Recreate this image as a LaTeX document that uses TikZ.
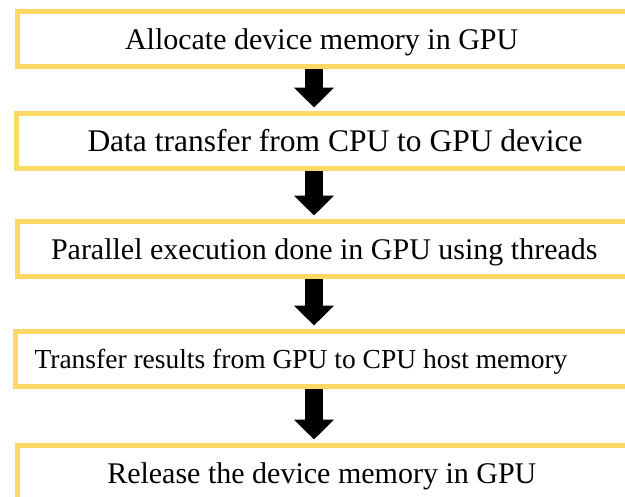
\documentclass[tikz,border=0pt]{standalone}
\usepackage{fontspec}
\setmainfont{Liberation Serif}
\usetikzlibrary{arrows.meta}
\definecolor{boxgold}{RGB}{255,217,102}
\begin{document}
\begin{tikzpicture}[x=0.4pt,y=-0.4pt]
			\def\ax{314}
			\tikzset{stepbox/.style={draw=boxgold,line width=2pt,anchor=north west,minimum height=22pt,text width=240pt,align=flush left,text height=10.4pt,text depth=2pt,font=\fontsize{12}{14}\selectfont}}
			\tikzset{fatarrow/.style={line width=7.2pt,-{Triangle[width=15.6pt,length=8pt]},shorten >=1.4pt}}
			\useasboundingbox(0,0)rectangle(625,496);
			\clip(0,0)rectangle(625,496);
			\path(14.5,9)node[stepbox,inner xsep=43.2pt](b1){Allocate device memory in GPU};
			\path(13.5,111)node[stepbox,inner xsep=28.6pt,font=\fontsize{12.6}{14}\selectfont](b2){Data transfer from CPU to GPU device};
			\path(14.5,219)node[stepbox,inner xsep=13.6pt](b3){Parallel execution done in GPU using threads};
			\path(13,329)node[stepbox,inner xsep=7.6pt,text height=9.2pt,font=\fontsize{11}{13}\selectfont](b4){Transfer results from GPU to CPU host memory};
			\path(15,443)node[stepbox,inner xsep=35.9pt](b5){Release the device memory in GPU};
			\coordinate(X)at(\ax,0);
			\foreach \x/\y in {
				b1/b2,b2/b3,
				b3/b4,b4/b5}
			\draw[fatarrow](\x.south-|X)--(\y.north-|X);
		\end{tikzpicture}
\end{document}
